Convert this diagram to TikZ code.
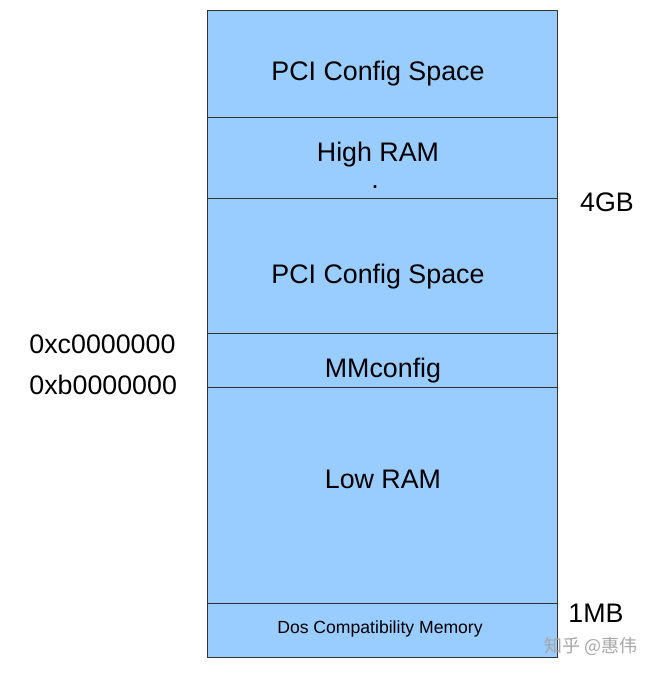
\documentclass[tikz,border=0pt]{standalone}
\usepackage{fontspec}
\setmainfont{Liberation Sans}
\newfontfamily\cjk{Noto Sans CJK SC}
\usetikzlibrary{positioning}
\tikzset{
  region/.style={
    rectangle,
    draw=black!80, thin,
    fill=memblue,
    minimum width=175pt,
    inner sep=0pt, outer sep=0pt},
  addr/.style={font=\fontsize{13.4}{15}\selectfont, inner sep=0pt},
}
\definecolor{memblue}{HTML}{99CCFF}
\begin{document}
\begin{tikzpicture}[x=0.5pt,y=-0.5pt]
  \useasboundingbox (0,0) rectangle (660,674);
  % memory regions, top to bottom
  \node[region, minimum height=53.5pt, anchor=north west] (pcihi) at (207,10) {};
  \node[region, minimum height=40.5pt, below=0pt of pcihi] (highram) {};
  \node[region, minimum height=67.5pt, below=0pt of highram] (pcilo) {};
  \node[region, minimum height=27pt, below=0pt of pcilo] (mmcfg) {};
  \node[region, minimum height=108pt, below=0pt of mmcfg] (lowram) {};
  \node[region, minimum height=27pt, below=0pt of lowram] (dos) {};
  % texts inside
  \node[addr] at (378,74) {PCI Config Space};
  \node[addr] at (378,155) {High RAM};
  \node[addr] at (375,187) {.};
  \node[addr] at (378,277) {PCI Config Space};
  \node[addr] at (383,371) {MMconfig};
  \node[addr] at (383,479) {Low RAM};
  \node[font=\fontsize{8.8}{10}\selectfont, inner sep=0pt] at (380,629) {Dos Compatibility Memory};
  % addresses
  \node[addr, anchor=west] (cmark) at (29,344) {0xc0000000};
  \node[addr, anchor=west] (bmark) at (29,385) {0xb0000000};
  \node[addr] (fourgb) at (607,202) {4GB};
  \node[addr] (onemb) at (596,613) {1MB};
  \node[font=\cjk\fontsize{9}{10}\selectfont, text=black!35, inner sep=0pt] (mark) at (591,646) {知乎 @惠伟};
\end{tikzpicture}
\end{document}
